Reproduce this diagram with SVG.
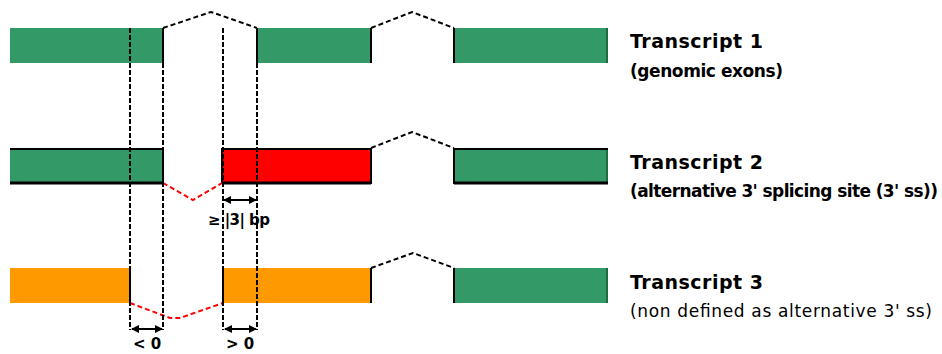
<svg xmlns="http://www.w3.org/2000/svg" width="942" height="354" viewBox="0 0 942 354">
  <style>
    .green { fill: #339966; }
    .red { fill: #ff0000; }
    .orange { fill: #ff9900; }
    .edge { stroke: #000; stroke-width: 2; fill: none; }
    .intron { stroke: #000; stroke-width: 2; fill: none; stroke-dasharray: 5 3; }
    .intron-alt { stroke: #ff0000; stroke-width: 2; fill: none; stroke-dasharray: 5 3; }
    .guide { stroke: #000; stroke-width: 2; fill: none; stroke-dasharray: 5 2; }
    .dim { stroke: #000; stroke-width: 2; fill: none; marker-start: url(#arrow); marker-end: url(#arrow); }
    .title { font-family: "DejaVu Sans", "Liberation Sans", sans-serif; font-weight: bold; font-size: 19px; fill: #000; }
    .sub { font-family: "DejaVu Sans", "Liberation Sans", sans-serif; font-size: 17px; fill: #000; }
    .sub-b { font-weight: bold; }
    .lbl { font-family: "DejaVu Sans", "Liberation Sans", sans-serif; font-weight: bold; font-size: 15px; fill: #000; }
  </style>
  <defs>
    <marker id="arrow" viewBox="0 0 8 8" refX="7" refY="4" markerWidth="4" markerHeight="4" orient="auto-start-reverse" markerUnits="strokeWidth">
      <path d="M0,0 L8,4 L0,8 Z" fill="#000"/>
    </marker>
  </defs>

  <!-- Transcript 1: genomic exons -->
  <g id="transcript1">
    <rect class="green" x="10" y="28" width="153" height="35"/>
    <rect class="green" x="257" y="28" width="114" height="35"/>
    <rect class="green" x="454" y="28" width="154" height="35"/>
    <line x1="607" y1="28" x2="607" y2="63" stroke="#1f6b44" stroke-width="2"/>
    <line class="edge" x1="163" y1="28" x2="163" y2="63"/>
    <line class="edge" x1="257" y1="28" x2="257" y2="63"/>
    <line class="edge" x1="371" y1="28" x2="371" y2="63"/>
    <line class="edge" x1="454" y1="28" x2="454" y2="63"/>
    <text class="title" x="630" y="48" textLength="133" lengthAdjust="spacing">Transcript 1</text>
    <text class="sub sub-b" x="630" y="77" textLength="153" lengthAdjust="spacing">(genomic exons)</text>
  </g>

  <!-- Transcript 2: alternative 3' splicing site -->
  <g id="transcript2">
    <rect class="green" x="10" y="148" width="153" height="35"/>
    <rect class="red" x="222" y="148" width="149" height="35"/>
    <rect class="green" x="454" y="148" width="154" height="35"/>
    <line x1="607" y1="150" x2="607" y2="182" stroke="#1f6b44" stroke-width="2"/>
    <path class="edge" d="M10,149 H163 M222,149 H371 M454,149 H608"/>
    <path d="M10,183 H163 M222,183 H371 M454,183 H608" stroke="#000" stroke-width="3" fill="none"/>
    <line class="edge" x1="163" y1="148" x2="163" y2="184"/>
    <line class="edge" x1="222" y1="148" x2="222" y2="184"/>
    <line class="edge" x1="371" y1="148" x2="371" y2="184"/>
    <line class="edge" x1="454" y1="148" x2="454" y2="184"/>
    <text class="title" x="630" y="169" textLength="133" lengthAdjust="spacing">Transcript 2</text>
    <text class="sub sub-b" x="630" y="197" textLength="308" lengthAdjust="spacing">(alternative 3' splicing site (3' ss))</text>
  </g>

  <!-- Transcript 3: not defined as alternative 3' ss -->
  <g id="transcript3">
    <rect class="orange" x="10" y="268" width="120" height="35"/>
    <rect class="orange" x="223" y="268" width="148" height="35"/>
    <rect class="green" x="454" y="268" width="154" height="35"/>
    <line x1="607" y1="268" x2="607" y2="303" stroke="#1f6b44" stroke-width="2"/>
    <line class="edge" x1="130" y1="268" x2="130" y2="303"/>
    <line class="edge" x1="223" y1="268" x2="223" y2="303"/>
    <line class="edge" x1="371" y1="268" x2="371" y2="303"/>
    <line class="edge" x1="454" y1="268" x2="454" y2="303"/>
    <text class="title" x="630" y="289" textLength="133" lengthAdjust="spacing">Transcript 3</text>
    <text class="sub" x="630" y="317" textLength="302" lengthAdjust="spacing">(non defined as alternative 3' ss)</text>
  </g>

  <!-- Introns joining the exons -->
  <g id="connectors">
    <polyline class="intron" points="163,28 211,12 257,28"/>
    <polyline class="intron" points="371,28 412,12 454,28"/>
    <polyline class="intron-alt" points="163,183 193,200 222,183"/>
    <polyline class="intron" points="371,148 412,132 454,148"/>
    <polyline class="intron-alt" points="130,303 170,318 180,318 223,303"/>
    <polyline class="intron" points="371,268 413,253 454,268"/>
  </g>

  <!-- Splice-site guides and distances -->
  <g id="guides">
    <line class="guide" x1="130" y1="28" x2="130" y2="330"/>
    <line class="guide" x1="163" y1="63" x2="163" y2="330"/>
    <line class="guide" x1="223" y1="28" x2="223" y2="330"/>
    <line class="guide" x1="257" y1="63" x2="257" y2="330"/>
    <line class="dim" x1="224" y1="200" x2="256" y2="200"/>
    <line class="dim" x1="132" y1="329" x2="162" y2="329"/>
    <line class="dim" x1="225" y1="329" x2="256" y2="329"/>
    <text class="lbl" x="239" y="225" text-anchor="middle" textLength="62" lengthAdjust="spacing">≥ |3| bp</text>
    <text class="lbl" x="147" y="349" text-anchor="middle">&lt; 0</text>
    <text class="lbl" x="240" y="349" text-anchor="middle">&gt; 0</text>
  </g>
</svg>
